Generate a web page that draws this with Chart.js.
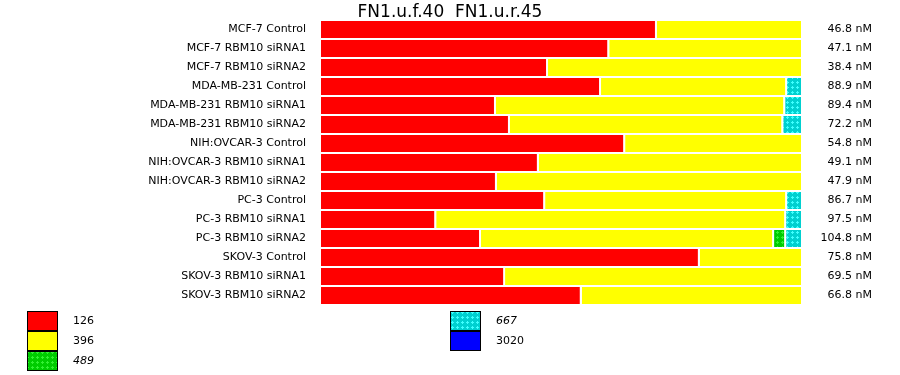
<!DOCTYPE html>
<html>
<meta charset="UTF-8">
<title>FN1.u.f.40 FN1.u.r.45</title>
<style type="text/css">
	html,
	body {
		margin: 0px;
		padding: 0px;
		background: #ffffff;
	}
</style>
<script src="https://cdn.jsdelivr.net/npm/chart.js"></script>

<body>

	<canvas id="chart" width="900" height="375"></canvas>

	<script>

		var samples = [
			'MCF-7 Control',
			'MCF-7 RBM10 siRNA1',
			'MCF-7 RBM10 siRNA2',
			'MDA-MB-231 Control',
			'MDA-MB-231 RBM10 siRNA1',
			'MDA-MB-231 RBM10 siRNA2',
			'NIH:OVCAR-3 Control',
			'NIH:OVCAR-3 RBM10 siRNA1',
			'NIH:OVCAR-3 RBM10 siRNA2',
			'PC-3 Control',
			'PC-3 RBM10 siRNA1',
			'PC-3 RBM10 siRNA2',
			'SKOV-3 Control',
			'SKOV-3 RBM10 siRNA1',
			'SKOV-3 RBM10 siRNA2'
		];

		var totals = ['46.8 nM', '47.1 nM', '38.4 nM', '88.9 nM', '89.4 nM', '72.2 nM', '54.8 nM',
			'49.1 nM', '47.9 nM', '86.7 nM', '97.5 nM', '104.8 nM', '75.8 nM', '69.5 nM', '66.8 nM'];

		var sizes = ['126', '396', '489', '667', '3020'];

		// share of each product (percent of the bar)
		var p126 = [69.7, 59.8, 47.1, 58.1, 36.3, 39.2, 63.1, 45.2, 36.5, 46.5, 23.9, 33.2, 78.6, 38.2, 54.1];
		var p396 = [30.3, 40.2, 52.9, 38.6, 60.0, 56.7, 36.9, 54.8, 63.5, 50.2, 72.6, 60.8, 21.4, 61.8, 45.9];
		var p489 = [0, 0, 0, 0, 0, 0, 0, 0, 0, 0, 0, 2.5, 0, 0, 0];
		var p667 = [0, 0, 0, 3.3, 3.7, 4.1, 0, 0, 0, 3.3, 3.5, 3.5, 0, 0, 0];
		var p3020 = [0, 0, 0, 0, 0, 0, 0, 0, 0, 0, 0, 0, 0, 0, 0];

		var font = 'DejaVu Sans';

		function dotPattern(base, dot) {
			var c = document.createElement('canvas');
			c.width = 5;
			c.height = 5;
			var g = c.getContext('2d');
			g.fillStyle = base;
			g.fillRect(0, 0, 5, 5);
			g.fillStyle = dot;
			g.fillRect(2, 1, 1, 3);
			g.fillRect(1, 2, 3, 1);
			return g.createPattern(c, 'repeat');
		}

		function series(i, values, fill, italic) {
			return {
				label: sizes[i],
				data: values,
				backgroundColor: fill,
				borderColor: '#ffffff',
				borderWidth: { top: 0, right: 2, bottom: 0, left: 0 },
				borderSkipped: false,
				italic: italic
			};
		}

		var datasets = [
			series(0, p126, '#ff0000', false),
			series(1, p396, '#ffff00', false),
			series(2, p489, dotPattern('#00cc00', '#33f033'), true),
			series(3, p667, dotPattern('#00d0d0', '#40ffff'), true),
			series(4, p3020, '#0000ff', false)
		];

		// two column legend under the plot
		var boxLegend = {
			id: 'boxLegend',
			afterDraw: function (chart) {
				var ctx = chart.ctx;
				ctx.save();
				chart.data.datasets.forEach(function (ds, i) {
					var col = i < 3 ? 0 : 1;
					var row = i < 3 ? i : i - 3;
					var x = col === 0 ? 27.5 : 450.5;
					var y = 311.5 + row * 20;
					ctx.fillStyle = ds.backgroundColor;
					ctx.fillRect(x, y, 30, 19);
					ctx.strokeStyle = '#000000';
					ctx.lineWidth = 1;
					ctx.strokeRect(x, y, 30, 19);
					ctx.fillStyle = '#000000';
					ctx.font = (ds.italic ? 'italic ' : '') + '11px "' + font + '"';
					ctx.textAlign = 'left';
					ctx.textBaseline = 'middle';
					ctx.fillText(ds.label, x + 45.5, y + 10);
				});
				ctx.restore();
			}
		};

		function fixAxis(w) {
			return function (s) {
				s.width = w;
				s.paddingTop = 0;
				s.paddingBottom = 0;
			};
		}

		var config = {
			type: 'bar',
			data: {
				labels: samples,
				datasets: datasets
			},
			options: {
				indexAxis: 'y',
				responsive: false,
				animation: false,
				layout: {
					padding: { top: 0, right: 28, bottom: 70, left: 28 }
				},
				datasets: {
					bar: {
						categoryPercentage: 1,
						barPercentage: 17 / 19
					}
				},
				scales: {
					x: {
						stacked: true,
						min: 0,
						max: 100,
						display: false
					},
					y: {
						stacked: true,
						position: 'left',
						grid: { display: false, drawTicks: false },
						border: { display: false },
						ticks: {
							color: '#000000',
							padding: 15,
							font: { family: font, size: 11 }
						},
						afterFit: fixAxis(293)
					},
					y2: {
						type: 'category',
						labels: totals,
						position: 'right',
						offset: true,
						grid: { display: false, drawTicks: false },
						border: { display: false },
						ticks: {
							color: '#000000',
							padding: 20,
							crossAlign: 'far',
							font: { family: font, size: 11 }
						},
						afterFit: fixAxis(69)
					}
				},
				plugins: {
					legend: { display: false },
					title: {
						display: true,
						text: 'FN1.u.f.40  FN1.u.r.45',
						color: '#000000',
						font: { family: font, size: 17, weight: 'normal' },
						padding: { top: 2, bottom: -2.4 }
					}
				}
			},
			plugins: [boxLegend]
		};

		var myChart = new Chart(document.getElementById('chart'), config);

	</script>
</body>

</html>
